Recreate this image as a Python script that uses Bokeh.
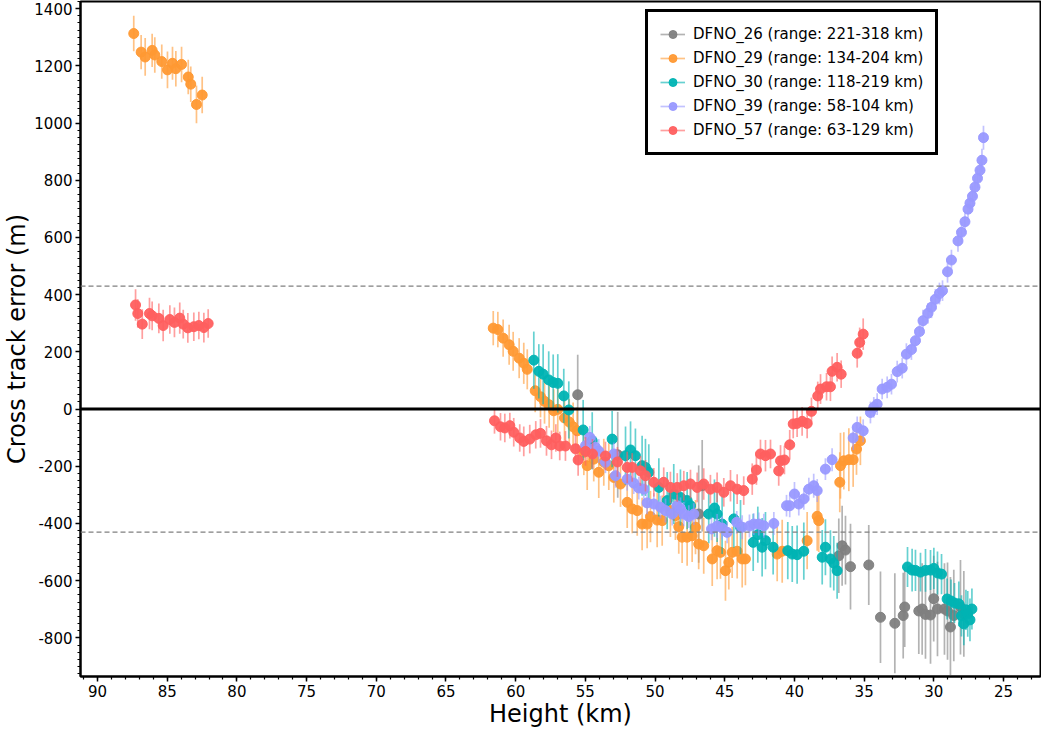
import numpy as np
from bokeh.plotting import figure
from bokeh.models import Range1d, FixedTicker, Span, Legend, LegendItem, ColumnDataSource
from bokeh.embed import file_html
from bokeh.resources import INLINE

FONT = "DejaVu Sans"

# ---------------- data ----------------
# DFNO_26 (grey)
g_x = [55.55, 52.68, 46.87, 46.62, 36.82, 36.58, 36.34, 35.98, 34.67, 33.83,
       32.80, 32.20, 32.09, 31.08, 30.84, 30.60, 30.24, 30.01, 29.74, 29.24,
       29.02, 28.81, 28.57, 28.09, 27.85]
g_y = [50, -160, -367, -268, -513, -478, -493, -551, -545, -728,
       -749, -722, -692, -706, -699, -718, -720, -663, -699, -699,
       -706, -762, -722, -693, -716]
g_err = [140, 150, 170, 160, 130, 140, 120, 150, 140, 160,
         175, 150, 140, 150, 160, 155, 170, 150, 165, 160,
         170, 175, 160, 165, 150]

# DFNO_29 (orange)
o_x = [87.40, 86.87, 86.58, 86.08, 85.89, 85.39, 84.98, 84.62, 84.38, 83.97, 83.49, 83.31, 82.90, 82.49,
       61.61, 61.28, 60.90, 60.47, 60.18, 59.75, 59.42, 59.17,
       58.60, 58.22, 57.93, 57.60, 57.27, 56.98, 56.50, 56.16, 55.88, 55.59,
       55.11, 54.87, 54.40, 54.04, 53.68, 53.32, 52.96, 52.48, 52.00, 51.64,
       51.28, 50.93, 50.57, 50.33, 49.85, 49.49, 48.90, 48.54, 48.30, 48.06,
       47.70, 47.34, 47.10, 46.87, 46.51, 45.90, 45.55, 45.31, 44.95, 44.71,
       44.47, 44.11, 43.75, 43.52,
       41.24, 40.88, 39.09, 38.37, 38.26, 36.75, 36.70, 36.46, 36.10, 35.79, 35.55, 35.27]
o_y = [1313, 1248, 1231, 1254, 1238, 1215, 1186, 1209, 1190, 1205, 1161, 1136, 1065, 1098,
       283, 278, 248, 225, 202, 178, 160, 139,
       64, 43, 27, 15, -6, -1, -31, -45, -62, -76,
       -151, -198, -175, -221, -186, -198, -239, -262, -326, -349,
       -355, -402, -402, -376, -388, -390, -355, -373, -411, -448,
       -448, -443, -413, -472, -478, -524, -495, -501, -565, -536,
       -501, -497, -524, -524,
       -507, -497, -460, -375, -390, -256, -198, -181, -177, -177, -140, -111]
o_err = [62, 60, 66, 58, 62, 60, 64, 58, 62, 62, 60, 62, 66, 64,
         60, 62, 65, 70, 68, 70, 72, 70,
         75, 72, 78, 80, 75, 82, 78, 80, 85, 82,
         80, 85, 78, 90, 82, 85, 88, 80, 90, 85,
         88, 92, 85, 90, 95, 88, 92, 85, 95, 90,
         100, 92, 95, 88, 98, 95, 100, 92, 105, 95,
         90, 95, 100, 92,
         95, 110, 100, 120, 110, 105, 115, 100, 110, 95, 90, 85]

# DFNO_30 (teal)
t_x = [58.70, 58.34, 58.03, 57.63, 57.31, 56.98, 56.55, 56.19, 55.16, 54.51,
       53.08, 52.12, 51.76, 51.41, 50.93, 50.69, 50.45, 49.73, 49.13, 48.66,
       48.18, 47.70, 47.46, 46.15, 45.74, 45.55, 45.19, 44.35, 43.87, 42.96,
       42.63, 42.32, 42.08, 41.53, 40.48, 40.16, 39.81, 39.33, 38.01, 37.78,
       37.42, 37.18, 36.94,
       31.89, 31.56, 31.32, 30.96, 30.60, 30.24, 30.00, 29.74, 29.45, 29.05,
       28.77, 28.52, 28.21, 28.02, 27.85, 27.70, 27.57, 27.41, 27.27]
t_y = [171, 132, 122, 102, 93, 90, 46, -3, -73, -111,
       -105, -163, -143, -163, -198, -204, -221, -274, -320, -297,
       -309, -320, -338, -367, -346, -367, -402, -384, -413, -466,
       -439, -483, -460, -483, -495, -507, -509, -497, -518, -483,
       -524, -539, -565,
       -552, -563, -564, -570, -564, -563, -557, -573, -577, -664,
       -671, -678, -681, -723, -751, -702, -716, -737, -699]
t_err = [100, 95, 105, 100, 98, 102, 95, 100, 105, 100,
         98, 102, 100, 95, 105, 100, 98, 102, 100, 105,
         98, 100, 95, 102, 100, 98, 105, 100, 95, 100,
         98, 102, 100, 95, 100, 98, 102, 100, 95, 98,
         100, 95, 98,
         70, 75, 72, 68, 75, 70, 72, 75, 70, 72,
         75, 70, 78, 72, 75, 70, 80, 75, 72]

# DFNO_39 (lavender)
l_x = [54.68, 54.99, 54.28, 54.04, 53.56, 52.96, 52.84, 52.00, 51.53, 51.17,
       50.81, 50.57, 50.09, 49.61, 49.25, 48.77, 48.41, 48.18, 47.94, 47.58,
       47.22, 45.95, 45.55, 45.19, 44.83, 44.14, 43.75, 43.23, 42.92, 42.56,
       42.20, 41.48, 40.57, 40.34, 40.00, 39.69, 39.33, 38.97, 38.62, 38.37,
       37.78, 37.30, 35.79, 35.50, 35.07, 34.55, 34.31, 34.07, 33.71, 33.35,
       33.04, 32.63, 32.27, 31.97, 31.61, 31.32, 31.03, 30.78, 30.42, 30.17,
       29.89, 29.60, 29.38, 29.02, 28.74, 28.27, 28.02, 27.77, 27.55, 27.41,
       27.23, 27.05, 26.87, 26.69, 26.55, 26.44]
l_y = [-99, -128, -134, -147, -186, -157, -233, -245, -259, -276,
       -280, -328, -332, -343, -355, -367, -338, -349, -367, -376,
       -367, -419, -409, -416, -431, -396, -413, -409, -402, -402,
       -408, -400, -338, -338, -297, -332, -314, -280, -268, -285,
       -210, -177, -101, -64, -76, -12, 6, 17, 70, 76,
       87, 131, 143, 192, 208, 239, 271, 309, 335, 356,
       384, 404, 414, 480, 521, 588, 618, 655, 699, 720,
       744, 776, 807, 835, 870, 949]
l_err = [40, 38, 40, 42, 38, 40, 42, 40, 38, 40,
         42, 40, 38, 40, 42, 40, 38, 40, 42, 40,
         38, 40, 42, 40, 38, 40, 42, 40, 38, 40,
         42, 40, 38, 40, 42, 40, 38, 40, 42, 40,
         38, 40, 42, 38, 40, 38, 36, 38, 36, 38,
         36, 38, 36, 38, 36, 38, 36, 38, 36, 38,
         36, 38, 36, 38, 36, 38, 36, 38, 36, 38,
         36, 38, 36, 38, 40, 42]

# DFNO_57 (red)
r_x = [87.27, 87.11, 86.79, 86.27, 86.08, 85.60, 85.29, 84.81, 84.48, 84.10,
       83.85, 83.52, 83.09, 82.73, 82.37, 82.06,
       61.52, 61.09, 60.78, 60.42, 60.14, 59.71, 59.42, 58.99, 58.56, 58.22,
       57.79, 57.43, 57.12, 56.84, 56.43, 55.71, 55.52, 54.99, 54.49, 53.56,
       52.70, 52.00, 51.64, 51.05, 50.69, 50.09, 49.38, 48.90, 48.41, 47.94,
       47.46, 46.98, 46.51, 46.03, 45.55, 45.07, 44.59, 44.11, 43.64, 43.03,
       42.73, 42.44, 42.08, 41.72, 41.13, 41.00, 40.72, 40.34, 40.09, 39.81,
       39.45, 39.09, 38.78, 38.33, 38.13, 37.70, 37.42, 37.30, 36.94, 36.65,
       35.50, 35.32, 35.07]
r_y = [364, 334, 297, 334, 326, 317, 292, 313, 303, 318,
       297, 284, 288, 292, 285, 299,
       -41, -62, -66, -58, -81, -101, -113, -105, -90, -85,
       -111, -125, -101, -129, -129, -139, -178, -148, -157, -164,
       -185, -204, -204, -216, -233, -256, -256, -274, -274, -268,
       -262, -274, -262, -280, -274, -291, -268, -280, -285, -245,
       -213, -157, -163, -157, -216, -181, -178, -125, -52, -50,
       -43, -50, -8, 46, 70, 78, 78, 132, 146, 122,
       195, 233, 262]
r_err = [55, 50, 52, 55, 50, 52, 55, 50, 52, 55,
         50, 52, 50, 48, 52, 50,
         45, 48, 50, 45, 50, 48, 52, 50, 48, 50,
         52, 50, 48, 50, 52, 50, 55, 50, 52, 50,
         52, 55, 50, 52, 55, 50, 52, 55, 50, 52,
         50, 52, 55, 50, 52, 50, 55, 52, 50, 55,
         52, 50, 55, 50, 52, 55, 50, 52, 50, 48,
         50, 52, 48, 50, 52, 48, 50, 52, 50, 48,
         50, 52, 55]

series = [
    ("DFNO_26 (range: 221-318 km)", g_x, g_y, g_err, "#808080"),
    ("DFNO_29 (range: 134-204 km)", o_x, o_y, o_err, "#ff9933"),
    ("DFNO_30 (range: 118-219 km)", t_x, t_y, t_err, "#00b3b3"),
    ("DFNO_39 (range: 58-104 km)", l_x, l_y, l_err, "#9999ff"),
    ("DFNO_57 (range: 63-129 km)", r_x, r_y, r_err, "#ff5f5f"),
]

x_ticks = [25, 30, 35, 40, 45, 50, 55, 60, 65, 70, 75, 80, 85, 90]
y_ticks = [-800, -600, -400, -200, 0, 200, 400, 600, 800, 1000, 1200, 1400]
sigma_line = 430

# ---------------- figure ----------------
p = figure(width=1041, height=730, output_backend="svg", toolbar_location=None,
           x_range=Range1d(91.22, 22.35), y_range=Range1d(-935, 1425),
           min_border_left=73, min_border_right=1, min_border_top=1, min_border_bottom=54)
p.xgrid.grid_line_color = None
p.ygrid.grid_line_color = None
p.outline_line_color = "black"
p.outline_line_width = 2
p.outline_line_alpha = 1
p.background_fill_color = "white"
p.border_fill_color = "white"

p.xaxis.ticker = FixedTicker(ticks=x_ticks, minor_ticks=list(range(23, 92)))
p.yaxis.ticker = FixedTicker(ticks=y_ticks, minor_ticks=list(range(-925, 1426, 25)))
p.yaxis.major_label_overrides = {t: str(t) for t in y_ticks}

p.xaxis.axis_label = "Height (km)"
p.yaxis.axis_label = "Cross track error (m)"

for ax in (p.xaxis[0], p.yaxis[0]):
    ax.axis_line_width = 2
    ax.axis_line_color = "black"
    ax.major_tick_line_width = 1.5
    ax.minor_tick_line_width = 1.2
    ax.major_tick_in = 0
    ax.major_tick_out = 5
    ax.minor_tick_in = 0
    ax.minor_tick_out = 3
    ax.major_label_text_font = FONT
    ax.major_label_text_font_size = "15px"
    ax.major_label_text_color = "black"
    ax.major_label_standoff = 3
    ax.axis_label_text_font = FONT
    ax.axis_label_text_font_size = "24px"
    ax.axis_label_text_font_style = "normal"
    ax.axis_label_text_color = "black"
    ax.axis_label_standoff = 0

p.add_layout(Span(location=sigma_line, dimension="width", line_color="#808080",
                  line_width=1.2, line_dash="5 3"))
p.add_layout(Span(location=-sigma_line, dimension="width", line_color="#808080",
                  line_width=1.2, line_dash="5 3"))
p.add_layout(Span(location=0, dimension="width", line_color="black", line_width=3))

items = []
for label, xs, ys, es, col in series:
    xs = np.array(xs, dtype=float)
    ys = np.array(ys, dtype=float)
    es = np.array(es, dtype=float)
    src = ColumnDataSource(dict(x=xs, y=ys, lo=ys - es, hi=ys + es))
    seg = p.segment(x0="x", y0="lo", x1="x", y1="hi", source=src,
                    line_color=col, line_alpha=0.6, line_width=1.7)
    sc = p.scatter(x="x", y="y", source=src, size=10, marker="circle",
                   fill_color=col, line_color=col, fill_alpha=0.95, line_alpha=0.95)
    items.append(LegendItem(label=label, renderers=[seg, sc]))

legend = Legend(items=items, location=(565, 521))
legend.label_text_font = FONT
legend.label_text_font_size = "15px"
legend.label_text_color = "black"
legend.border_line_color = "black"
legend.border_line_width = 3
legend.border_line_alpha = 1
legend.background_fill_alpha = 1
legend.glyph_width = 25
legend.glyph_height = 20
legend.label_height = 20
legend.label_standoff = 8
legend.spacing = 4
legend.padding = 12
legend.margin = 0
p.add_layout(legend)

open("out.html", "w").write(file_html(p, INLINE))
